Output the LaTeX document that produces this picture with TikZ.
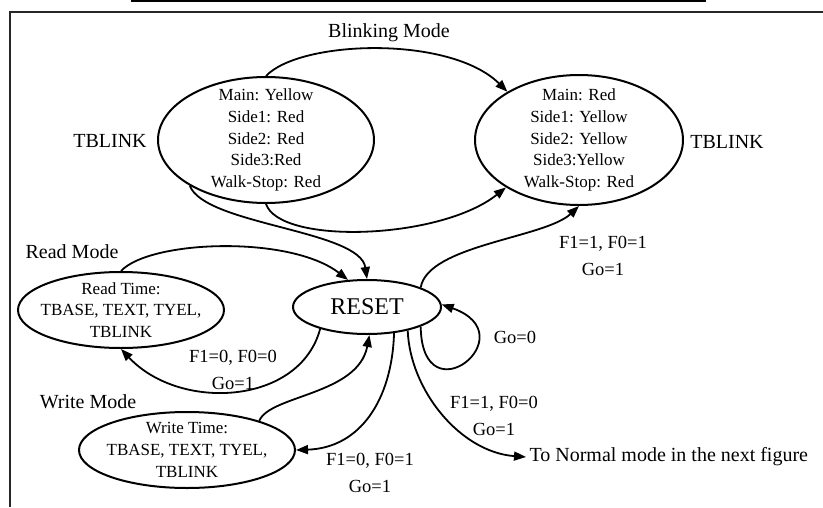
\documentclass[tikz,border=0pt]{standalone}
\usepackage{fontspec}
\setmainfont{Liberation Serif}
\usetikzlibrary{shapes.geometric,arrows.meta}
\tikzset{stbox/.style={draw,ellipse,line width=2pt,inner sep=0pt}}
\tikzset{sttext/.style={align=center,font=\fontsize{17}{21.7}\selectfont}}
\tikzset{edlabel/.style={align=center,font=\fontsize{18.5}{26.5}\selectfont}}
\tikzset{mdlabel/.style={font=\fontsize{20}{24}\selectfont}}
\tikzset{trans/.style={line width=1.8pt,-{Triangle[length=12pt,width=9pt]}}}

\begin{document}
\begin{tikzpicture}[x=1pt,y=-1pt]

\pgfmathsetmacro{\W}{823}
\pgfmathsetmacro{\H}{507}
\pgfmathsetmacro{\yb}{140}

\useasboundingbox (0,0) rectangle (\W,\H);

% 枠
\draw[line width=2.2pt,black!85] (10,\H) -- (10,12) -- (\W,12);

% 上の表の残り
\draw[line width=1.2pt] (131,1) -- (705,1);
\foreach \tx in {131,242,354,705} \draw[line width=0.6pt] (\tx,0) -- (\tx,2);

% TBLINK の2状態
\node[stbox,minimum width=216pt,minimum height=126pt] (lblink) at (266,\yb) {};
\node[sttext] (lbtext) at (lblink.center)
    {Main: Yellow\\Side1: Red\\Side2: Red\\Side3:Red\\Walk-Stop: Red};
\node[stbox,minimum width=208pt,minimum height=130pt] (rblink) at (579,\yb) {};
\node[sttext] (rbtext) at (rblink.center)
    {Main: Red\\Side1: Yellow\\Side2: Yellow\\Side3:Yellow\\Walk-Stop: Red};
\node[mdlabel] (ltb) at (110,141) {TBLINK};
\node[mdlabel] (rtb) at (727,142) {TBLINK};
\node[mdlabel] (bmode) at (389,33) {Blinking Mode};

% RESET
\node[stbox,minimum width=148pt,minimum height=54pt,
    font=\fontsize{24}{28}\selectfont] (reset) at (367,307) {RESET};

% Read / Write
\node[stbox,minimum width=206pt,minimum height=76pt] (readst) at (121,310) {};
\node[sttext] (rdtext) at (readst.center)
    {Read Time:\\TBASE, TEXT, TYEL,\\TBLINK};
\node[mdlabel] (rdmode) at (72,252) {Read Mode};
\node[stbox,minimum width=216pt,minimum height=76pt] (writest) at (187,450) {};
\node[sttext] (wrtext) at (writest.center)
    {Write Time:\\TBASE, TEXT, TYEL,\\TBLINK};
\node[mdlabel] (wrmode) at (88,402) {Write Mode};

% 次の図へ
\node[mdlabel,anchor=west] (normal) at (526,457) {To Normal mode in the next figure};

% 遷移の条件
\node[edlabel] (lab00) at (233,370) {F1=0, F0=0\\Go=1};
\node[edlabel] (lab01) at (370,473) {F1=0, F0=1\\Go=1};
\node[edlabel] (lab10) at (494,416) {F1=1, F0=0\\Go=1};
\node[edlabel] (lab11) at (603,256) {F1=1, F0=1\\Go=1};
\node[edlabel] (labgo) at (515,337) {Go=0};

% 点滅の間の遷移
\draw[trans]
    (lblink.north) .. controls (300,40) and (450,35) .. (rblink.146);
\draw[trans]
    (lblink.south) .. controls (280,245) and (440,240) .. (rblink.213);

% RESET へ
\draw[trans]
    (lblink.211) .. controls (205,225) and (360,230) .. (reset.north);
\draw[trans]
    (readst.north) .. controls (150,240) and (290,235) .. (reset.125);
\draw[trans]
    (writest.22) .. controls (270,395) and (358,395) .. (reset.275);
\draw[trans]
    (reset.-20) .. controls (422,420) and (528,335) .. (reset.2);

% RESET から
\draw[trans]
    (reset.205) .. controls (300,405) and (180,412) .. (readst.south);
\draw[trans]
    (reset.-44) .. controls (392,400) and (360,448) .. (writest.east);
\draw[trans]
    (reset.20) .. controls (428,245) and (545,238) .. (rblink.south);
\draw[trans]
    (reset.-30) .. controls (410,390) and (460,452) .. (normal.west);

\end{tikzpicture}
\end{document}
